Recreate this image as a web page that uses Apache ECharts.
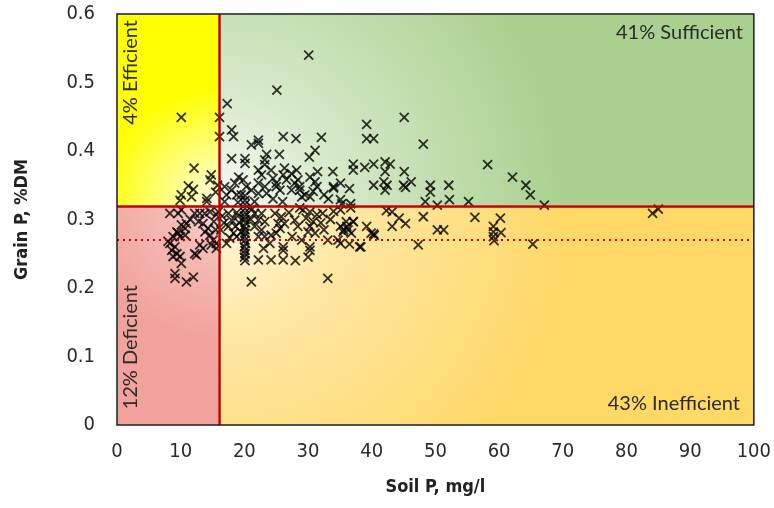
<!DOCTYPE html>
<html>
<head>
<meta charset="utf-8">
<script src="https://cdn.jsdelivr.net/npm/echarts@6/dist/echarts.min.js"></script>
<style>
  html, body { margin: 0; padding: 0; background: #fff; }
  #chart { width: 774px; height: 508px; }
</style>
</head>
<body>
<div id="chart"></div>
<script>
// thresholds (soil P mg/l, grain P %DM)
var soilLimit = 16
var grainLimit = 0.32
var grainCritical = 0.27

var xTicks = [0, 10, 20, 30, 40, 50, 60, 70, 80, 90, 100]
var yTicks = [0, 0.1, 0.2, 0.3, 0.4, 0.5, 0.6]

var quadrantLabels = ['41% Sufficient', '43% Inefficient', '4% Efficient', '12% Deficient']

// [soil P, grain P], grouped by quadrant
var efficientPts = [
  [10.1, 0.449], [12.1, 0.375], [14.8, 0.365], [14.6, 0.358], [11.2, 0.349], [12.0, 0.344],
  [11.7, 0.333], [10.1, 0.336], [9.9, 0.328], [14.1, 0.331], [14.1, 0.326], [15.5, 0.340], [15.8, 0.350]
]
var deficientPts = [
  [8.3, 0.309], [10.1, 0.314], [12.2, 0.309], [13.8, 0.309], [14.6, 0.311], [15.6, 0.307], [15.9, 0.311],
  [9.6, 0.309], [13.0, 0.309], [10.1, 0.292], [10.7, 0.287], [9.4, 0.282], [8.8, 0.275], [9.9, 0.275],
  [13.5, 0.294], [14.3, 0.287], [13.8, 0.282], [14.6, 0.277], [15.1, 0.270], [14.8, 0.263], [13.0, 0.263],
  [13.5, 0.258], [15.6, 0.265], [15.6, 0.258], [8.3, 0.265], [9.1, 0.260], [9.4, 0.250], [9.9, 0.246],
  [10.1, 0.236], [8.8, 0.246], [12.2, 0.250], [12.5, 0.248], [9.1, 0.221], [9.1, 0.214], [10.9, 0.209],
  [12.0, 0.216], [8.0, 0.268], [8.6, 0.255], [10.9, 0.294], [9.6, 0.280], [10.7, 0.277], [11.5, 0.300],
  [12.8, 0.297], [15.2, 0.297], [15.5, 0.285]
]
var sufficientPts = [
  [30.1, 0.540], [25.1, 0.489], [17.3, 0.469], [16.1, 0.449], [16.1, 0.421], [18.0, 0.431], [18.3, 0.421],
  [21.1, 0.409], [22.2, 0.416], [22.2, 0.411], [26.1, 0.421], [28.1, 0.418], [32.1, 0.420], [31.1, 0.401],
  [30.2, 0.391], [39.2, 0.439], [39.2, 0.418], [40.3, 0.418], [45.1, 0.449], [48.1, 0.410], [58.2, 0.380],
  [62.1, 0.362], [64.2, 0.350], [64.9, 0.336], [67.1, 0.321], [37.1, 0.381], [37.1, 0.372], [38.9, 0.376],
  [40.3, 0.381], [42.1, 0.384], [42.9, 0.381], [42.1, 0.370], [45.1, 0.370], [33.9, 0.370], [41.9, 0.355],
  [42.1, 0.343], [42.4, 0.350], [45.0, 0.350], [45.3, 0.347], [46.2, 0.355], [49.2, 0.350], [49.2, 0.340],
  [52.1, 0.350], [52.2, 0.329], [48.4, 0.326], [50.3, 0.321], [55.2, 0.326], [40.3, 0.350], [30.3, 0.362],
  [31.1, 0.355], [31.4, 0.348], [30.8, 0.341], [34.0, 0.348], [35.1, 0.353], [34.0, 0.346], [28.7, 0.348],
  [29.5, 0.336], [29.0, 0.333], [30.3, 0.333], [35.1, 0.329], [35.3, 0.323], [36.7, 0.323], [18.0, 0.389],
  [20.1, 0.389], [20.1, 0.382], [23.2, 0.387], [23.2, 0.380], [24.2, 0.372], [22.2, 0.372], [22.7, 0.365],
  [26.3, 0.375], [28.2, 0.372], [26.1, 0.365], [27.4, 0.367], [25.0, 0.348], [25.0, 0.353], [25.6, 0.343],
  [19.1, 0.362], [19.8, 0.358], [18.5, 0.353], [20.3, 0.348], [21.1, 0.343], [19.5, 0.336], [18.8, 0.336],
  [18.0, 0.343], [22.2, 0.353], [23.2, 0.348], [22.2, 0.338], [23.5, 0.338], [26.6, 0.358], [27.9, 0.353],
  [28.4, 0.358], [27.4, 0.343], [28.7, 0.343], [16.9, 0.348], [17.2, 0.336], [16.9, 0.326], [20.1, 0.335],
  [20.1, 0.328], [20.1, 0.322], [24.5, 0.330], [26.0, 0.326], [21.6, 0.326], [19.0, 0.325], [32.5, 0.336],
  [33.2, 0.330], [24.5, 0.360], [31.5, 0.370], [36.5, 0.345], [25.5, 0.395], [23.5, 0.395]
]
var inefficientPts = [
  [84.1, 0.309], [85.0, 0.315], [42.3, 0.313], [43.2, 0.311], [44.3, 0.302], [45.3, 0.294], [43.2, 0.290],
  [48.1, 0.304], [50.3, 0.285], [51.3, 0.285], [56.2, 0.303], [59.1, 0.290], [59.1, 0.282], [60.2, 0.302],
  [60.3, 0.281], [59.1, 0.275], [59.2, 0.269], [65.3, 0.264], [47.3, 0.263], [38.3, 0.260], [36.5, 0.264],
  [39.2, 0.290], [40.3, 0.279], [37.1, 0.297], [36.1, 0.290], [35.6, 0.285], [36.7, 0.317], [40.4, 0.277],
  [28.7, 0.317], [29.2, 0.314], [30.3, 0.311], [31.4, 0.307], [32.3, 0.309], [29.7, 0.302], [30.8, 0.297],
  [30.3, 0.290], [31.1, 0.280], [30.0, 0.282], [35.1, 0.290], [35.5, 0.282], [36.3, 0.285], [36.0, 0.297],
  [37.1, 0.297], [36.8, 0.280], [33.1, 0.270], [34.7, 0.270], [35.1, 0.265], [30.3, 0.260], [30.3, 0.255],
  [38.1, 0.260], [39.9, 0.280], [33.1, 0.214], [35.1, 0.314], [17.5, 0.309], [18.0, 0.299], [17.5, 0.290],
  [18.3, 0.280], [17.7, 0.273], [17.2, 0.265], [18.6, 0.290], [18.8, 0.275], [21.6, 0.309], [22.7, 0.309],
  [22.2, 0.299], [23.2, 0.297], [21.6, 0.290], [22.7, 0.285], [22.2, 0.275], [23.2, 0.275], [24.8, 0.309],
  [25.8, 0.304], [25.3, 0.294], [26.3, 0.294], [25.6, 0.287], [27.9, 0.299], [28.4, 0.290], [26.1, 0.260],
  [26.1, 0.255], [22.2, 0.241], [24.2, 0.241], [26.1, 0.241], [21.1, 0.209], [24.2, 0.277], [25.0, 0.280],
  [20.1, 0.316], [20.1, 0.310], [20.0, 0.305], [20.1, 0.300], [20.2, 0.295], [20.0, 0.290], [20.1, 0.285],
  [20.1, 0.280], [20.0, 0.275], [20.1, 0.270], [20.2, 0.265], [20.0, 0.260], [20.1, 0.255], [20.1, 0.250],
  [20.0, 0.245], [20.1, 0.240], [19.0, 0.305], [19.2, 0.295], [21.0, 0.300], [21.2, 0.315], [19.5, 0.282],
  [18.8, 0.310], [16.5, 0.305], [16.8, 0.295], [16.3, 0.285], [27.0, 0.310], [33.5, 0.300], [34.0, 0.312],
  [32.0, 0.295], [32.5, 0.285], [27.5, 0.275], [29.0, 0.270], [24.0, 0.265], [23.0, 0.258], [28.0, 0.240],
  [30.0, 0.245]
]

var allPts = efficientPts.concat(deficientPts, sufficientPts, inefficientPts)

function radial(x, y, r, inner, mid, outer) {
  return {
    type: 'radial', x: x, y: y, r: r, global: false,
    colorStops: [
      { offset: 0, color: inner },
      { offset: 0.35, color: mid },
      { offset: 1, color: outer }
    ]
  }
}

var chart = echarts.init(document.getElementById('chart'))
var labelFont = "'Liberation Sans Narrow', 'DejaVu Sans Condensed', sans-serif"
var quadFont = 'Lato, sans-serif'

chart.setOption({
  animation: false,
  grid: {
    left: 117, right: 19, top: 14, bottom: 83,
    show: true, z: 10,
    backgroundColor: 'transparent',
    borderColor: '#1a1a1a', borderWidth: 1.5
  },
  xAxis: {
    type: 'value', min: xTicks[0], max: xTicks[xTicks.length - 1], interval: 10,
    name: 'Soil P, mg/l', nameLocation: 'middle', nameGap: 53,
    nameTextStyle: { fontFamily: labelFont, fontWeight: 'bold', fontSize: 18, color: '#222' },
    axisLine: { show: false }, axisTick: { show: false }, splitLine: { show: false },
    axisLabel: { margin: 17, fontFamily: labelFont, fontSize: 20, color: '#2a2a2a' }
  },
  yAxis: {
    type: 'value', min: yTicks[0], max: yTicks[yTicks.length - 1], interval: 0.1,
    name: 'Grain P, %DM', nameLocation: 'middle', nameGap: 86,
    nameTextStyle: { fontFamily: labelFont, fontWeight: 'bold', fontSize: 18, color: '#222' },
    axisLine: { show: false }, axisTick: { show: false }, splitLine: { show: false },
    axisLabel: { margin: 22, fontFamily: labelFont, fontSize: 20, color: '#2a2a2a' }
  },
  graphic: [
    { type: 'text', right: 31, top: 23, z: 20, style: { text: quadrantLabels[0], font: '20px ' + quadFont, fill: '#2b2b2b' } },
    { type: 'text', right: 34, top: 394, z: 20, style: { text: quadrantLabels[1], font: '20px ' + quadFont, fill: '#2b2b2b' } },
    { type: 'text', left: 121, top: 20, rotation: Math.PI / 2, z: 20, style: { text: quadrantLabels[2], font: '20px ' + quadFont, fill: '#2b2b2b' } },
    { type: 'text', left: 121, top: 285, rotation: Math.PI / 2, z: 20, style: { text: quadrantLabels[3], font: '20px ' + quadFont, fill: '#2b2b2b' } }
  ],
  series: [
    {
      type: 'scatter', data: [], z: 1, silent: true,
      markArea: {
        silent: true,
        itemStyle: { borderColor: '#fff', borderWidth: 1 },
        data: [
          [{ xAxis: 0, yAxis: grainLimit, itemStyle: { color: radial(1, 1, 1.15, '#fffbe6', '#ffff9a', '#ffff00') } },
           { xAxis: soilLimit, yAxis: 0.6 }],
          [{ xAxis: soilLimit, yAxis: grainLimit, itemStyle: { color: radial(0, 1, 1.8, '#f6faf2', '#d6e9c9', '#a9d08e') } },
           { xAxis: 100, yAxis: 0.6 }],
          [{ xAxis: 0, yAxis: 0, itemStyle: { color: radial(1, 0, 1.3, '#fadcd8', '#f5bcb6', '#f2a29c') } },
           { xAxis: soilLimit, yAxis: grainLimit }],
          [{ xAxis: soilLimit, yAxis: 0, itemStyle: { color: radial(0, 0, 1.6, '#fff7e2', '#ffe8a6', '#ffd866') } },
           { xAxis: 100, yAxis: grainLimit }]
        ]
      },
      markLine: {
        silent: true, symbol: 'none', label: { show: false },
        lineStyle: { color: '#c00000', width: 2.5, type: 'solid' },
        data: [
          { xAxis: soilLimit },
          { yAxis: grainLimit },
          { yAxis: grainCritical, lineStyle: { type: [2, 4], width: 2 } }
        ]
      }
    },
    {
      type: 'scatter', z: 3, silent: true,
      data: allPts,
      symbol: 'path://M0,0L10,10M10,0L0,10',
      symbolSize: 9,
      itemStyle: { color: 'transparent', borderColor: '#000', borderWidth: 1.8 }
    }
  ]
})
</script>
</body>
</html>
